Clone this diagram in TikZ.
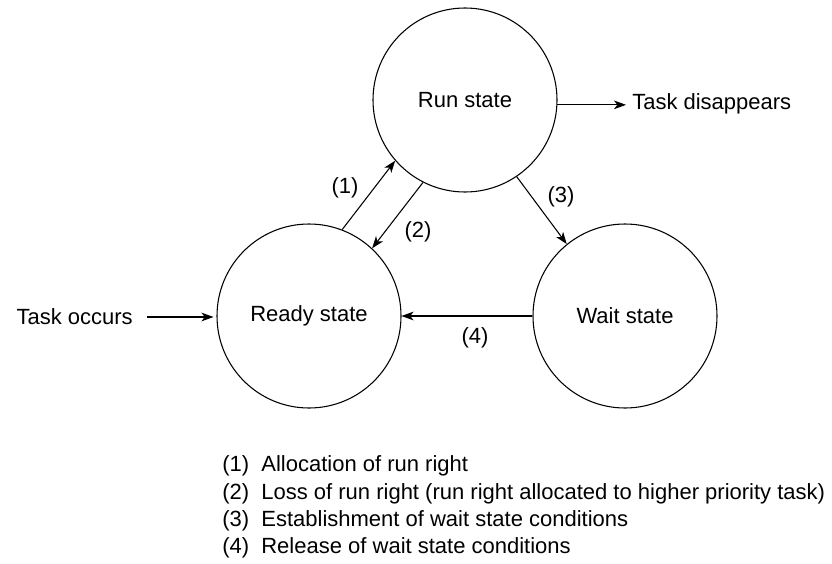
\documentclass[tikz,border=0pt]{standalone}
\usepackage{fontspec}
\setmainfont{Liberation Sans}
\usetikzlibrary{positioning,arrows.meta,calc}

\begin{document}
\begin{tikzpicture}[
    x=0.75pt, y=-0.75pt,
    every node/.style={font=\fontsize{16.5}{19}\selectfont},
    state/.style={draw, circle, thick, inner sep=0pt, minimum size=138pt},
    flow/.style={draw, thick, -{Stealth[length=9pt,width=6.5pt,inset=2.5pt]}},
    legend/.style={anchor=west, inner sep=0pt},
]
\useasboundingbox (0,0) rectangle (832,564);

\node[state] (run)   at (465,100) {Run state};
\node[state] (ready) at (309,316) {Ready state};
\node[state] (wait)  at (625,316) {Wait state};

\node[anchor=east, inner sep=0pt] (occurs) at (133,317) {Task occurs};
\node[anchor=west, inner sep=0pt] (gone) at (632,104) {Task disappears};

\draw[flow] (occurs.east) ++(14,0) coordinate (in) -- ($(in -| ready.west)+(-3,0)$);
\draw[flow] (run.-3) -- ($(run.-3 -| gone.west)+(-6,0)$);
\draw[flow] (ready.69) -- (run.221);
\draw[flow] (run.243) -- (ready.47);
\draw[flow] (run.304) -- (wait.129);
\draw[flow] (wait.180) -- (ready.0);

\node (l1) at (345,188) {(1)};
\node (l2) at (418,232) {(2)};
\node (l3) at (561,197) {(3)};
\node (l4) at (475,338) {(4)};

\node[legend] (k1) at (222,466) {(1)\ \ Allocation of run right};
\node[legend] (k2) at (222,494) {(2)\ \ Loss of run right (run right allocated to higher priority task)};
\node[legend] (k3) at (222,521) {(3)\ \ Establishment of wait state conditions};
\node[legend] (k4) at (222,548) {(4)\ \ Release of wait state conditions};
\end{tikzpicture}
\end{document}
